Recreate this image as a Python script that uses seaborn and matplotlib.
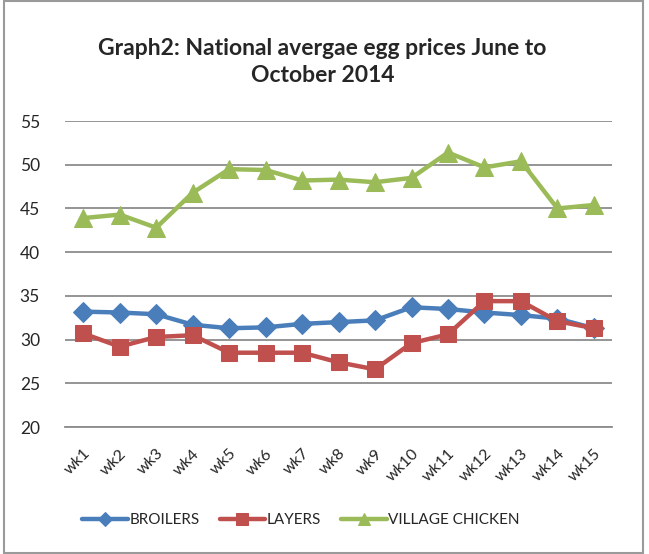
import numpy as np
import pandas as pd
import matplotlib.pyplot as plt
import seaborn as sns
from matplotlib.patches import Rectangle

weeks = ["wk1", "wk2", "wk3", "wk4", "wk5", "wk6", "wk7", "wk8",
         "wk9", "wk10", "wk11", "wk12", "wk13", "wk14", "wk15"]
broilers = [33.2, 33.1, 32.9, 31.7, 31.3, 31.4, 31.8, 32.0,
            32.2, 33.7, 33.5, 33.1, 32.8, 32.4, 31.3]
layers = [30.7, 29.2, 30.3, 30.5, 28.5, 28.5, 28.5, 27.4,
          26.6, 29.6, 30.6, 34.4, 34.4, 32.1, 31.3]
village = [43.9, 44.3, 42.8, 46.8, 49.5, 49.4, 48.2, 48.3,
           48.0, 48.5, 51.4, 49.7, 50.4, 45.0, 45.4]
yticks = [20, 25, 30, 35, 40, 45, 50, 55]

sns.set_style("white")
plt.rcParams["font.family"] = ["Lato", "DejaVu Sans"]

fig = plt.figure(figsize=(6.49, 5.54), dpi=100)
ax = fig.add_axes([0.1002, 0.2292, 0.843, 0.5523])

x = np.arange(len(weeks))
series = [
    ("BROILERS", broilers, "#4A7EBB", "D", 10),
    ("LAYERS", layers, "#C0504D", "s", 12),
    ("VILLAGE CHICKEN", village, "#9BBB59", "^", 13),
]
for name, vals, col, mk, ms in series:
    sns.lineplot(x=x, y=vals, ax=ax, color=col, marker=mk, markersize=ms,
                 markeredgecolor=col, linewidth=3.2, label=name)

ax.set_xlim(-0.5, len(weeks) - 0.5)
ax.set_ylim(20, 55)
ax.set_yticks(yticks)
ax.set_yticklabels([str(t) for t in yticks], fontsize=12.5)
ax.set_xticks(x)
ax.set_xticklabels(weeks, rotation=45, fontsize=11.5, ha="right",
                   rotation_mode="anchor")
ax.grid(axis="y", color="#8c8c8c", linewidth=1.3)
ax.set_axisbelow(True)
for s in ["top", "right", "left"]:
    ax.spines[s].set_visible(False)
ax.spines["bottom"].set_color("#8c8c8c")
ax.spines["bottom"].set_linewidth(1.3)
ax.tick_params(axis="x", length=0, pad=14)
ax.tick_params(axis="y", length=0, pad=18)
ax.legend_.remove()

fig.text(0.497, 1 - 62 / 554, "Graph2: National avergae egg prices June to\nOctober 2014",
         ha="center", va="center", fontsize=16.5, fontweight="bold",
         linespacing=1.4)

handles, labels = ax.get_legend_handles_labels()
fig.legend(handles, labels, loc="center", bbox_to_anchor=(301 / 649, 1 - 520 / 554),
           ncol=3, frameon=False, fontsize=11, handlelength=3.0,
           handletextpad=0.1, columnspacing=1.3, markerscale=0.7)

fig.patches.append(Rectangle((0.006, 0.002), 0.984, 0.996, transform=fig.transFigure,
                             fill=False, edgecolor="#9a9a9a", linewidth=1.5))

fig.savefig("out.png", dpi=100)
